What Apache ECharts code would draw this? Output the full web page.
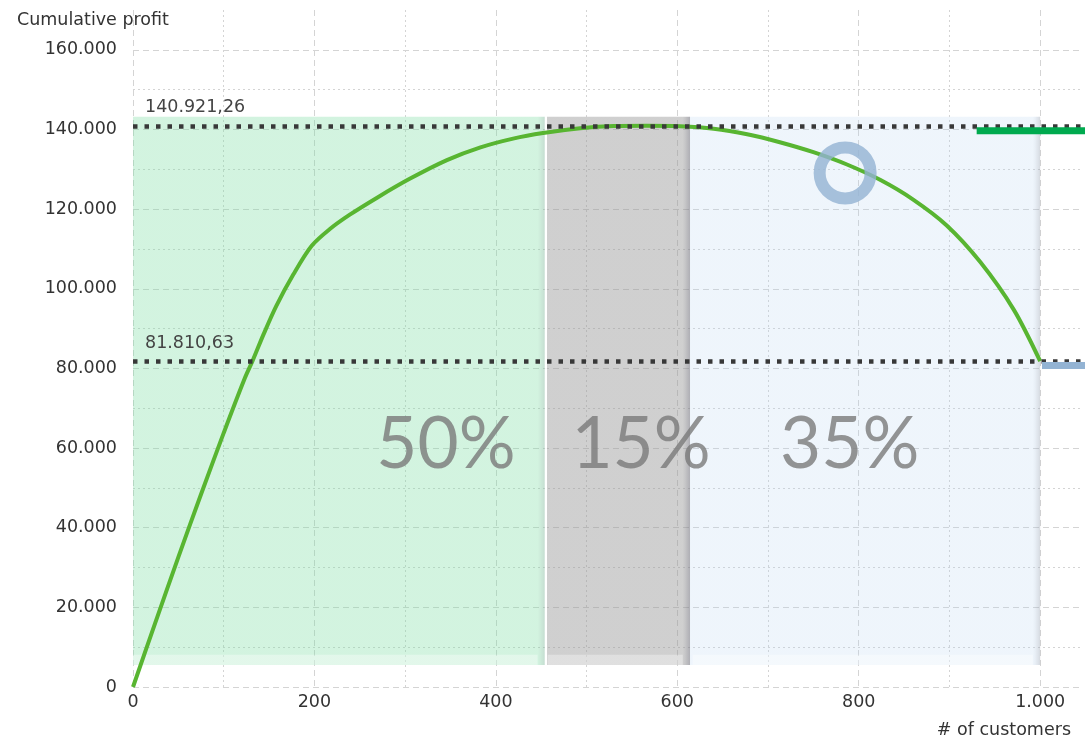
<!DOCTYPE html>
<html>
<head>
<meta charset="utf-8">
<script src="https://cdn.jsdelivr.net/npm/echarts@6/dist/echarts.min.js"></script>
<style>
html,body{margin:0;padding:0;background:#fff;}
#chart{width:1087px;height:752px;}
</style>
</head>
<body>
<div id="chart"></div>
<script>
// ---- data ----
const customers = [0, 25, 50, 75, 100, 123, 132, 144, 158, 177, 197, 217, 239, 270, 305, 346, 383, 419, 452, 493, 530, 566, 603, 640, 677, 713, 750, 787, 824, 860, 897, 934, 971, 1000];
const profit = [0, 16400, 32600, 48400, 63800, 77400, 82000, 88600, 95700, 103700, 110800, 115000, 118600, 123000, 127600, 132300, 135500, 137700, 139100, 140300, 140850, 140921.26, 140800, 140200, 138800, 136800, 134300, 131200, 127300, 122400, 115900, 106700, 94700, 81810.63];
const peakProfit = 140921.26;
const endProfit = 81810.63;
const bandStart = [0, 454, 614];
const bandEnd = [454, 614, 1000];
const bandLow = 5500;
const bandHigh = 143200;
const shareLabels = ['50%', '15%', '35%'];
const shareX = [345, 560, 790];
const shareY = 60800;
const ringPoint = [785, 129100];
const greenMarkX = [930, 1052];
const greenMarkY = 139700;
const blueMarkX = [1002, 1052];
const blueMarkY = 80760;
const yTitle = 'Cumulative profit';
const xTitle = '# of customers';

// ---- helpers ----
function thousands(v) {
  return String(v).replace(/\B(?=(\d{3})+(?!\d))/g, '.');
}
function deNumber(v) {
  const parts = v.toFixed(2).split('.');
  return thousands(parts[0]) + ',' + parts[1];
}

const FONT = 'DejaVu Sans';
const gridColor = '#d4d4d4';
const bandBase = ['rgba(120,220,160,0.33)', 'rgba(150,150,150,0.45)', 'rgba(180,210,240,0.22)'];
const bandEdge = ['rgba(110,170,140,0.4)', 'rgba(120,120,130,0.6)', 'rgba(150,160,175,0.4)'];
const bandLeft = ['rgba(120,220,160,0.33)', 'rgba(255,255,255,0.9)', 'rgba(180,210,240,0.22)'];

const chart = echarts.init(document.getElementById('chart'));

const lineData = customers.map((c, i) => [c, profit[i]]);
const bandAreas = bandStart.map((s, i) => {
  const w = bandEnd[i] - bandStart[i];
  const edge = 1 - 8 / w;
  const left = 2.5 / w;
  return [
    {
      xAxis: s, yAxis: bandLow,
      itemStyle: {
        color: new echarts.graphic.LinearGradient(0, 0, 1, 0, [
          { offset: 0, color: bandLeft[i] },
          { offset: left, color: bandLeft[i] },
          { offset: left + 0.0001, color: bandBase[i] },
          { offset: edge, color: bandBase[i] },
          { offset: 1, color: bandEdge[i] }
        ])
      }
    },
    { xAxis: bandEnd[i], yAxis: bandHigh }
  ];
});
// lighter bevel strip at the bottom of each band
const bevelTop = bandLow + 2600;
const bevelAreas = bandStart.map((s, i) => [
  { xAxis: s + (i === 0 ? 0 : 3), yAxis: bandLow },
  { xAxis: bandEnd[i] - 8, yAxis: bevelTop }
]);
const shareData = shareLabels.map((t, i) => [shareX[i], shareY, t]);

const option = {
  animation: false,
  textStyle: { fontFamily: FONT },
  title: [
    { text: yTitle, left: 12, top: 6, textStyle: { fontFamily: FONT, fontSize: 17.5, fontWeight: 'normal', color: '#333' } },
    { text: xTitle, right: 11, top: 716, textStyle: { fontFamily: FONT, fontSize: 17.5, fontWeight: 'normal', color: '#333' } }
  ],
  grid: { left: 133, right: 6, top: 10, bottom: 65, containLabel: false },
  xAxis: [
    {
      type: 'value', min: 0, max: 1045, interval: 100,
      axisLine: { show: false }, axisTick: { show: false }, axisLabel: { show: false },
      splitLine: { show: true, showMaxLine: false, lineStyle: { color: ['rgba(0,0,0,0)', gridColor], type: [2, 3], width: 1 } }
    },
    {
      type: 'value', min: 0, max: 1045, interval: 200, position: 'bottom',
      axisLine: { show: false }, axisTick: { show: false },
      axisLabel: {
        margin: 6, fontFamily: FONT, fontSize: 17.5, color: '#333',
        formatter: v => (v % 200 === 0 ? thousands(v) : '')
      },
      splitLine: { show: true, showMaxLine: false, lineStyle: { color: gridColor, type: [6, 4], width: 1 } }
    }
  ],
  yAxis: [
    {
      type: 'value', min: 0, max: 170000, interval: 10000,
      axisLine: { show: false }, axisTick: { show: false }, axisLabel: { show: false },
      splitLine: { show: true, showMaxLine: false, lineStyle: { color: ['rgba(0,0,0,0)', gridColor], type: [2, 3], width: 1 } }
    },
    {
      type: 'value', min: 0, max: 170000, interval: 20000, position: 'left', offset: 0,
      axisLine: { show: false }, axisTick: { show: false },
      axisLabel: {
        margin: 16, fontFamily: FONT, fontSize: 17.5, color: '#333',
        formatter: v => (v % 20000 === 0 ? thousands(v) : '')
      },
      splitLine: { show: true, showMaxLine: false, lineStyle: { color: gridColor, type: [6, 4], width: 1 } }
    }
  ],
  series: [
    {
      name: 'bands', type: 'line', xAxisIndex: 1, yAxisIndex: 1, data: [], z: 1,
      markArea: { silent: true, itemStyle: { borderWidth: 0 }, data: bandAreas }
    },
    {
      name: 'bevel', type: 'line', xAxisIndex: 1, yAxisIndex: 1, data: [], z: 2,
      markArea: { silent: true, itemStyle: { color: 'rgba(255,255,255,0.35)', borderWidth: 0 }, data: bevelAreas }
    },
    {
      name: 'profit', type: 'line', xAxisIndex: 1, yAxisIndex: 1, data: lineData, z: 3,
      smooth: 0.3, showSymbol: false, symbol: 'none',
      lineStyle: { color: '#58b531', width: 4 },
      markLine: {
        silent: true, symbol: ['none', 'none'], z: 5,
        lineStyle: { color: '#383838', type: [4.5, 7], width: 4.5, cap: 'butt' },
        label: {
          show: true, position: 'insideStartTop', distance: [12, 9],
          fontFamily: FONT, fontSize: 17.5, color: '#444',
          formatter: p => deNumber(p.value)
        },
        data: [{ yAxis: peakProfit }, { yAxis: endProfit }]
      }
    },
    {
      name: 'shares', type: 'scatter', xAxisIndex: 1, yAxisIndex: 1, data: shareData, z: 4,
      symbolSize: 1, itemStyle: { color: 'rgba(0,0,0,0)' },
      label: {
        show: true, position: 'inside', formatter: p => p.value[2],
        fontFamily: 'Lato', fontSize: 71, color: '#7a7a7a'
      }
    },
    {
      name: 'ring', type: 'scatter', xAxisIndex: 1, yAxisIndex: 1, data: [ringPoint], z: 6,
      symbol: 'circle', symbolSize: 51,
      itemStyle: { color: 'rgba(0,0,0,0)', borderColor: '#93b3d3', borderWidth: 12 }
    },
    {
      name: 'greenMark', type: 'line', xAxisIndex: 1, yAxisIndex: 1, clip: false, z: 6,
      data: greenMarkX.map(x => [x, greenMarkY]), symbol: 'none',
      lineStyle: { color: '#00aa4f', width: 7 }
    },
    {
      name: 'blueMark', type: 'line', xAxisIndex: 1, yAxisIndex: 1, clip: false, z: 6,
      data: blueMarkX.map(x => [x, blueMarkY]), symbol: 'none',
      lineStyle: { color: '#93b3d3', width: 7 }
    }
  ]
};
chart.setOption(option);
</script>
</body>
</html>
